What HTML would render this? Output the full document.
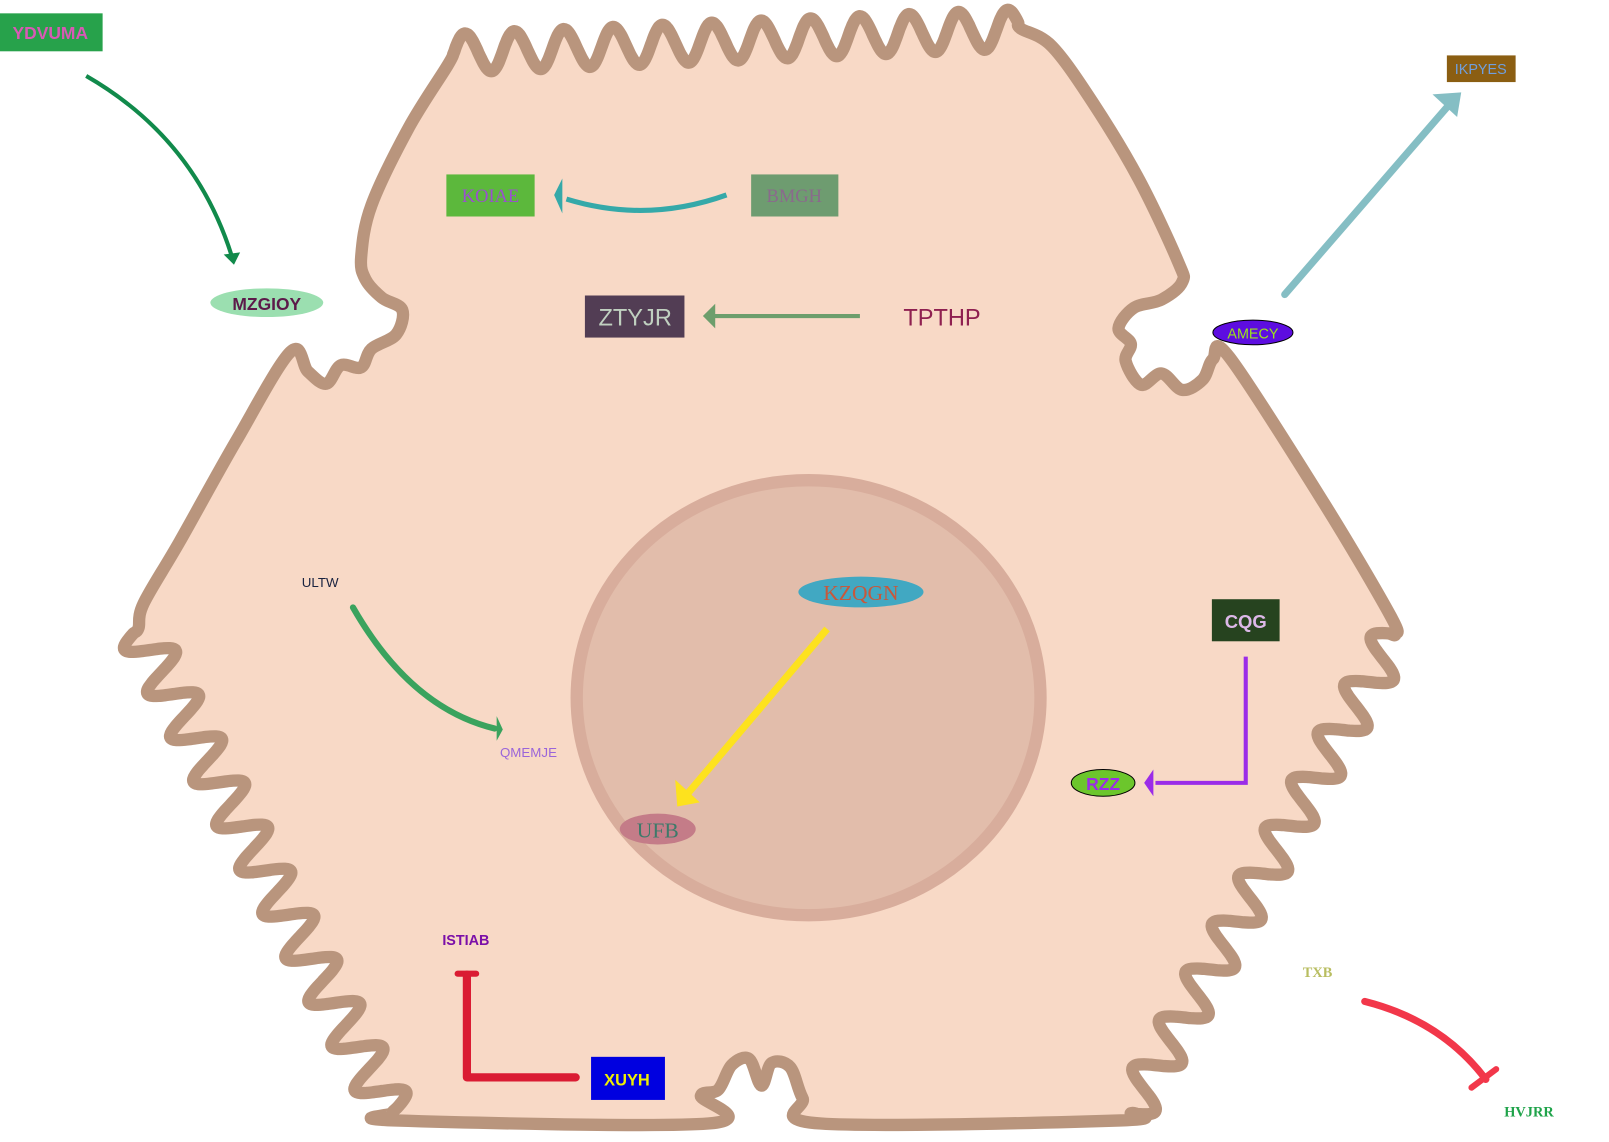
<!DOCTYPE html>
<html><head><meta charset="utf-8"><style>
html,body{margin:0;padding:0;background:#fff;}
svg{display:block;}
text{font-family:"Liberation Sans",sans-serif;}
.serif{font-family:"Liberation Serif",serif;}
</style></head><body>
<svg id="s" width="1609" height="1142" viewBox="0 0 1568 1113" preserveAspectRatio="none" xmlns="http://www.w3.org/2000/svg">
<path id="cell" fill="#f8d9c6" stroke="#b9957d" stroke-width="12" stroke-linejoin="round"/>
<ellipse cx="788" cy="680" rx="226" ry="212" fill="#e2bdab" stroke="#d8ad9c" stroke-width="12"/>

<rect x="0" y="13" width="100" height="37" fill="#27a24b"/>
<text x="49" y="38" font-size="17" font-weight="bold" fill="#d959b5" text-anchor="middle">YDVUMA</text>
<path d="M84,74 Q190,135 226,250" fill="none" stroke="#118a4b" stroke-width="4"/>
<path d="M218,248 L234,246 L228,258 Z" fill="#118a4b"/>
<ellipse cx="260" cy="295" rx="55" ry="14" fill="#9bdfb0"/>
<text x="260" y="302" font-size="17" font-weight="bold" fill="#5c1a4a" text-anchor="middle">MZGIOY</text>

<rect x="435" y="170" width="86" height="41" fill="#5cb83c"/>
<text class="serif" x="478" y="197" font-size="18" fill="#9b4fcf" text-anchor="middle">KOIAE</text>
<rect x="732" y="170" width="85" height="41" fill="#6e9c70"/>
<text class="serif" x="774" y="197" font-size="18" fill="#8a6a8c" text-anchor="middle">BMGH</text>
<path d="M708,190 Q630,218 552,194" fill="none" stroke="#35a9a9" stroke-width="5"/>
<path d="M540,190 L548,174 L548,208 Z" fill="#35a9a9"/>

<rect x="570" y="288" width="97" height="41" fill="#523d54"/>
<text x="619" y="317" font-size="23" fill="#c0d0c0" text-anchor="middle">ZTYJR</text>
<line x1="838" y1="308" x2="696" y2="308" stroke="#6d9e6c" stroke-width="4"/>
<path d="M685,308 L697,296 L697,320 Z" fill="#6d9e6c"/>
<text x="918" y="317" font-size="23" fill="#8f2050" text-anchor="middle">TPTHP</text>

<line x1="1252" y1="287" x2="1414" y2="100" stroke="#85bec4" stroke-width="7" stroke-linecap="round"/>
<path d="M1424,90 L1396,92 L1420,114 Z" fill="#85bec4"/>
<rect x="1410" y="54" width="67" height="26" fill="#8b5e12"/>
<text x="1443" y="72" font-size="14" fill="#6f9fdf" text-anchor="middle">IKPYES</text>
<ellipse cx="1221" cy="324" rx="39" ry="12" fill="#5d0de0" stroke="#000" stroke-width="1"/>
<text x="1221" y="330" font-size="14" fill="#9be31a" text-anchor="middle">AMECY</text>

<text x="312" y="572" font-size="13" fill="#1a2340" text-anchor="middle">ULTW</text>
<path d="M344,592 Q400,690 482,710" fill="none" stroke="#3aa35e" stroke-width="6" stroke-linecap="round"/>
<path d="M490,711 L484,698 L484,722 Z" fill="#3aa35e"/>
<text x="515" y="738" font-size="13" fill="#9a65d9" text-anchor="middle">QMEMJE</text>

<line x1="806" y1="613" x2="668" y2="776" stroke="#fde21e" stroke-width="7"/>
<path d="M660,786 L658,760 L682,782 Z" fill="#fde21e"/>
<ellipse cx="839" cy="577" rx="61" ry="15" fill="#41a8c2"/>
<text class="serif" x="839" y="585" font-size="21" fill="#c8583b" text-anchor="middle">KZQGN</text>
<ellipse cx="641" cy="808" rx="37" ry="15" fill="#c47c88"/>
<text class="serif" x="641" y="816" font-size="21" fill="#3d7a6a" text-anchor="middle">UFB</text>

<rect x="1181" y="584" width="66" height="41" fill="#26431f"/>
<text x="1214" y="612" font-size="18" font-weight="bold" fill="#dcb8e8" text-anchor="middle">CQG</text>
<path d="M1214,640 L1214,763 L1126,763" fill="none" stroke="#9b2ce8" stroke-width="4"/>
<path d="M1115,763 L1124,750 L1124,776 Z" fill="#9b2ce8"/>
<ellipse cx="1075" cy="763" rx="31" ry="13" fill="#6cc62c" stroke="#000" stroke-width="1"/>
<text x="1075" y="770" font-size="17" font-weight="bold" fill="#9b2ce8" text-anchor="middle">RZZ</text>

<text x="454" y="921" font-size="14" font-weight="bold" fill="#7b0fa8" text-anchor="middle">ISTIAB</text>
<path d="M561,1050 L455,1050 L455,950" fill="none" stroke="#da1c33" stroke-width="8" stroke-linecap="round" stroke-linejoin="round"/>
<line x1="446" y1="949" x2="464" y2="949" stroke="#da1c33" stroke-width="6" stroke-linecap="round"/>
<rect x="576" y="1030" width="72" height="42" fill="#0000e0"/>
<text x="611" y="1058" font-size="16" font-weight="bold" fill="#f0f000" text-anchor="middle">XUYH</text>

<text class="serif" x="1284" y="952" font-size="14" font-weight="bold" fill="#b8bd60" text-anchor="middle">TXB</text>
<path d="M1330,976 Q1405,995 1448,1052" fill="none" stroke="#f2374a" stroke-width="7" stroke-linecap="round"/>
<line x1="1434" y1="1060" x2="1458" y2="1042" stroke="#f2374a" stroke-width="6" stroke-linecap="round"/>
<text class="serif" x="1490" y="1088" font-size="14" font-weight="bold" fill="#1fa34a" text-anchor="middle">HVJRR</text>
</svg>
<script>
function wave(p0,p1,n,amp,pts){
  var dx=p1[0]-p0[0],dy=p1[1]-p0[1],L=Math.hypot(dx,dy),nx=-dy/L,ny=dx/L;
  var steps=n*20;
  for(var i=0;i<=steps;i++){var t=i/steps,s=Math.sin(t*n*2*Math.PI)*amp;
    pts.push([p0[0]+dx*t+nx*s,p0[1]+dy*t+ny*s]);}
}
var P=[];
P.push([352,250],[362,200],[398,125],[436,64]);
wave([442,52],[995,28],11.5,-19,P);
P.push([1025,45],[1065,100],[1110,175],[1148,255],[1152,275],[1132,292],[1105,300],[1090,320],[1102,335],[1097,352],[1112,375],[1132,364],[1152,380],[1172,370],[1182,350],[1198,348],[1290,490],[1355,600]);
wave([1360,618],[1102,1085],10,20,P);
P.push([1092,1092],[800,1095],[782,1070],[770,1040],[752,1036],[742,1058],[730,1032],[713,1038],[700,1062],[683,1068],[690,1095],[385,1092]);
wave([382,1085],[135,612],11,22,P);
P.push([140,588],[175,528],[230,430],[283,343],[300,362],[318,374],[332,356],[352,358],[362,340],[386,326],[392,302],[372,290],[356,272]);
// Catmull-Rom smoothing (closed)
var n=P.length,d='M'+P[0][0].toFixed(1)+','+P[0][1].toFixed(1);
for(var i=0;i<n;i++){
  var p0=P[(i-1+n)%n],p1=P[i],p2=P[(i+1)%n],p3=P[(i+2)%n];
  var c1=[p1[0]+(p2[0]-p0[0])/6,p1[1]+(p2[1]-p0[1])/6];
  var c2=[p2[0]-(p3[0]-p1[0])/6,p2[1]-(p3[1]-p1[1])/6];
  d+=' C'+c1[0].toFixed(1)+','+c1[1].toFixed(1)+' '+c2[0].toFixed(1)+','+c2[1].toFixed(1)+' '+p2[0].toFixed(1)+','+p2[1].toFixed(1);
}
d+=' Z';
document.getElementById('cell').setAttribute('d',d);
</script>
</body></html>
